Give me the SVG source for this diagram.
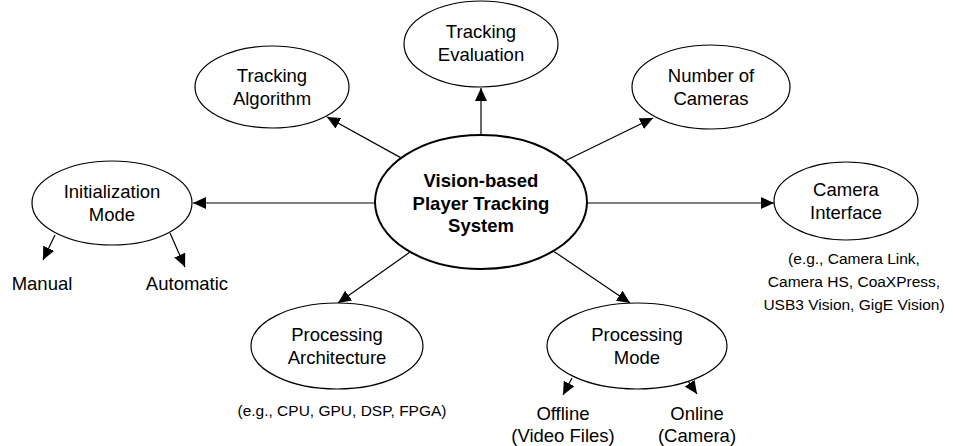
<svg xmlns="http://www.w3.org/2000/svg" width="953" height="446" viewBox="0 0 953 446">
  <defs>
    <marker id="arrow" markerUnits="userSpaceOnUse" markerWidth="14" markerHeight="12" viewBox="0 0 14 12" refX="13" refY="6" orient="auto">
      <path d="M0,0 L13,6 L0,12 Z" fill="#000"/>
    </marker>
    <style>
      .node ellipse { fill: #fff; stroke: #000; stroke-width: 1.2; }
      .hub ellipse { fill: #fff; stroke: #000; stroke-width: 2; }
      text { font-family: "Liberation Sans", Arial, sans-serif; font-size: 18.5px; fill: #000; text-anchor: middle; }
      .bold { font-weight: bold; }
      .note { font-size: 15.5px; }
      .edges line { stroke: #000; stroke-width: 1.2; marker-end: url(#arrow); }
    </style>
  </defs>
  <rect width="953" height="446" fill="#fff"/>

  <!-- connectors -->
  <g class="edges">
    <line x1="481" y1="135" x2="481" y2="88"/>
    <line x1="400.6" y1="157.6" x2="327" y2="117"/>
    <line x1="565.3" y1="160.8" x2="653" y2="118"/>
    <line x1="375" y1="203" x2="193" y2="203"/>
    <line x1="587" y1="203" x2="774" y2="203"/>
    <line x1="409.7" y1="252.3" x2="338" y2="303"/>
    <line x1="553.9" y1="251.4" x2="630" y2="303"/>
    <line x1="55" y1="235" x2="43" y2="260"/>
    <line x1="170" y1="233" x2="185" y2="267"/>
    <line x1="572" y1="378" x2="563" y2="395"/>
    <line x1="686" y1="378" x2="697" y2="394"/>
  </g>

  <!-- central node -->
  <g id="hub" class="hub">
    <ellipse cx="481" cy="202" rx="106" ry="67"/>
    <text class="bold" x="481" y="187">Vision-based</text>
    <text class="bold" x="481" y="209.5">Player Tracking</text>
    <text class="bold" x="481" y="232">System</text>
  </g>

  <g id="tracking-evaluation" class="node">
    <ellipse cx="481" cy="44" rx="77" ry="43"/>
    <text x="481" y="38">Tracking</text>
    <text x="481" y="61">Evaluation</text>
  </g>

  <g id="tracking-algorithm" class="node">
    <ellipse cx="272" cy="87" rx="77" ry="41"/>
    <text x="272" y="82">Tracking</text>
    <text x="272" y="105">Algorithm</text>
  </g>

  <g id="number-of-cameras" class="node">
    <ellipse cx="711" cy="87" rx="79" ry="42"/>
    <text x="711" y="82">Number of</text>
    <text x="711" y="105">Cameras</text>
  </g>

  <g id="initialization-mode" class="node">
    <ellipse cx="112" cy="203" rx="80" ry="42"/>
    <text x="112" y="198">Initialization</text>
    <text x="112" y="221">Mode</text>
  </g>

  <g id="manual">
    <text x="42" y="290">Manual</text>
  </g>
  <g id="automatic">
    <text x="187" y="290">Automatic</text>
  </g>

  <g id="camera-interface" class="node">
    <ellipse cx="846" cy="201" rx="72" ry="39"/>
    <text x="846" y="196">Camera</text>
    <text x="846" y="219">Interface</text>
  </g>
  <g id="camera-interface-note">
    <text class="note" x="854" y="264">(e.g., Camera Link,</text>
    <text class="note" x="854" y="287">Camera HS, CoaXPress,</text>
    <text class="note" x="854" y="310">USB3 Vision, GigE Vision)</text>
  </g>

  <g id="processing-architecture" class="node">
    <ellipse cx="337" cy="346" rx="86" ry="43"/>
    <text x="337" y="341">Processing</text>
    <text x="337" y="364">Architecture</text>
  </g>
  <g id="processing-architecture-note">
    <text class="note" x="342" y="416">(e.g., CPU, GPU, DSP, FPGA)</text>
  </g>

  <g id="processing-mode" class="node">
    <ellipse cx="637" cy="346" rx="90" ry="43"/>
    <text x="637" y="341">Processing</text>
    <text x="637" y="364">Mode</text>
  </g>

  <g id="offline">
    <text x="563" y="420">Offline</text>
    <text x="563" y="442">(Video Files)</text>
  </g>
  <g id="online">
    <text x="697" y="420">Online</text>
    <text x="697" y="442">(Camera)</text>
  </g>
</svg>
